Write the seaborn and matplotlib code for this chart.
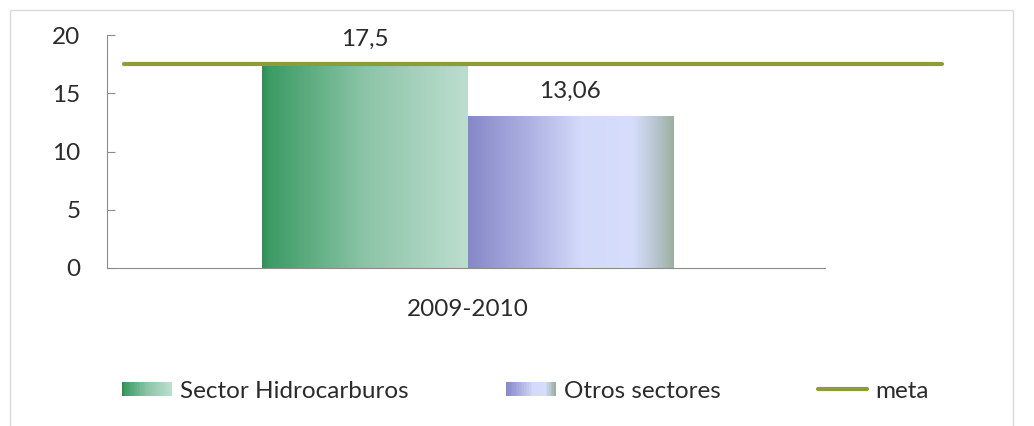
import numpy as np
import pandas as pd
import matplotlib
matplotlib.use("Agg")
import matplotlib.pyplot as plt
import seaborn as sns
from matplotlib.colors import LinearSegmentedColormap
from matplotlib.patches import Rectangle
from matplotlib.lines import Line2D
from matplotlib.legend_handler import HandlerBase

# Data
periodo = "2009-2010"
sectores = ["Sector Hidrocarburos", "Otros sectores"]
valores = [17.5, 13.06]
meta = 17.5

sns.set_style("white")
plt.rcParams["font.family"] = ["Lato", "DejaVu Sans"]
FS = 17.5
TXT = "#2b2b2b"

# gradient colormaps (Excel-like fills)
cm_green = LinearSegmentedColormap.from_list(
    "g", [(0, "#2f8f56"), (0.03, "#3b9b63"), (0.5, "#8cc4a7"), (1, "#bcdecf")])
cm_blue = LinearSegmentedColormap.from_list(
    "b", [(0, "#8688c8"), (0.3, "#adb2e2"), (0.55, "#d3dafa"), (0.8, "#d6defc"),
          (0.9, "#bcc8d6"), (1, "#9db09f")])
cmaps = [cm_green, cm_blue]

df = pd.DataFrame({"periodo": [periodo] * len(sectores), "sector": sectores, "valor": valores})

fig = plt.figure(figsize=(10.34, 4.26), dpi=100)
ax = fig.add_axes([107 / 1034, 1 - 268 / 426, (945 - 107) / 1034, (268 - 35) / 426])

sns.barplot(data=df, x="periodo", y="valor", hue="sector", width=0.8,
            palette=["#6db08a", "#b6bde8"], saturation=1, legend=False, ax=ax)

# paint gradients clipped to each bar
grad = np.linspace(0, 1, 256).reshape(1, -1)
for patch, cmap in zip(ax.patches, cmaps):
    x0, y0 = patch.get_x(), patch.get_y()
    w, h = patch.get_width(), patch.get_height()
    im = ax.imshow(grad, cmap=cmap, aspect="auto", extent=[x0, x0 + w, y0, y0 + h],
                   zorder=patch.get_zorder())
    im.set_clip_path(patch)
    patch.set_facecolor("none")
    patch.set_edgecolor("none")

labels = [f"{v:g}".replace(".", ",") for v in valores]
for cont, lab in zip(ax.containers, labels):
    ax.bar_label(cont, labels=[lab], padding=10, fontsize=FS, color=TXT)

ax.set_xlim(-0.703, 0.93)
ax.set_ylim(0, 20)
ax.set_yticks([0, 5, 10, 15, 20])
ax.axhline(meta, xmin=0.02, xmax=0.996, color="#8e9c38", lw=3, zorder=5, clip_on=False)

ax.set_xlabel("")
ax.set_ylabel("")
for s in ["top", "right"]:
    ax.spines[s].set_visible(False)
ax.spines["left"].set_color("#8c8c8c")
ax.spines["bottom"].set_color("#8c8c8c")
ax.spines["bottom"].set_bounds(-0.703, 0.696)
ax.tick_params(axis="y", direction="in", length=6, color="#8c8c8c", pad=19,
               labelsize=FS, labelcolor=TXT, left=True)
ax.tick_params(axis="x", length=0, pad=22, labelsize=FS, labelcolor=TXT)


class GradHandler(HandlerBase):
    def __init__(self, cmap):
        super().__init__()
        self.cmap = cmap

    def create_artists(self, legend, orig, xd, yd, width, height, fontsize, trans):
        n = 30
        arts = []
        for i in range(n):
            r = Rectangle((xd + width * i / n, yd + height * 0.1), width / n + 0.3, height * 0.8,
                          facecolor=self.cmap(i / (n - 1)), edgecolor="none", transform=trans)
            arts.append(r)
        return arts


h1 = Rectangle((0, 0), 1, 1)
h2 = Rectangle((0, 0), 1, 1)
h3 = Line2D([], [], color="#8e9c38", lw=3)
leg = fig.legend([h1, h2, h3], sectores + ["meta"], ncol=3, frameon=False,
                 loc="center left", bbox_to_anchor=(122 / 1034, 1 - 391 / 426),
                 handler_map={h1: GradHandler(cm_green), h2: GradHandler(cm_blue)},
                 fontsize=FS, handlelength=2.05, handleheight=0.7, handletextpad=0.33,
                 columnspacing=4.0, borderaxespad=0, borderpad=0)
for t in leg.get_texts():
    t.set_color(TXT)

# outer chart-area border
fig.patches.append(Rectangle((10 / 1034, -0.1), (1013 - 10) / 1034, 1.1 - 10 / 426,
                             transform=fig.transFigure, fill=False,
                             edgecolor="#d9d9d9", lw=1))

fig.savefig("out.png", dpi=100)
